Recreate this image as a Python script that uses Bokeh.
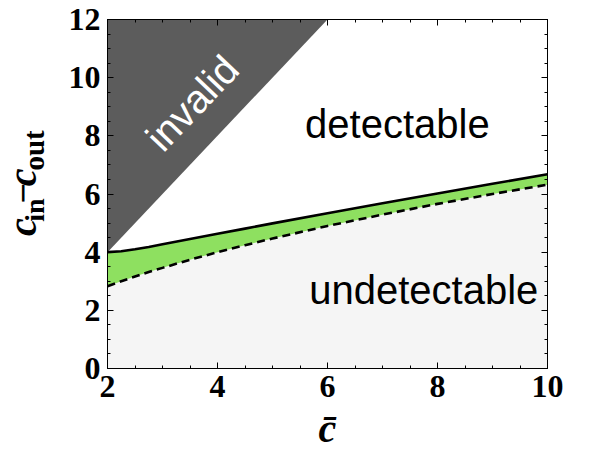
from bokeh.plotting import figure
from bokeh.models import Range1d, LinearAxis, SingleIntervalTicker, Label
from bokeh.layouts import row
from bokeh.embed import file_html
from bokeh.resources import INLINE

# --- data ---
cbar = [2, 2.25, 2.5, 2.75, 3, 3.5, 4, 4.5, 5, 6, 7, 8, 9, 10]
upper = [4.0, 4.03, 4.1, 4.18, 4.27, 4.45, 4.63, 4.81, 4.99, 5.34, 5.68, 6.02, 6.35, 6.68]   # solid
lower = [2.83, 3.0, 3.16, 3.32, 3.46, 3.74, 4.0, 4.24, 4.47, 4.9, 5.29, 5.66, 6.0, 6.32]    # dashed
invalid_x = [2, 6]
invalid_lo = [4, 12]
invalid_hi = [12, 12]

p = figure(width=556, height=453, output_backend="svg", toolbar_location=None, title=None,
           x_range=Range1d(2, 10), y_range=Range1d(0, 12),
           min_border_left=55, min_border_right=61, min_border_top=19, min_border_bottom=82)
p.grid.visible = False
p.background_fill_color = "white"
p.outline_line_color = "black"

# fills
p.varea(x=cbar, y1=[0] * len(cbar), y2=lower, fill_color="#f5f5f5")
p.varea(x=cbar, y1=lower, y2=upper, fill_color="#8ee060")
p.varea(x=invalid_x, y1=invalid_lo, y2=invalid_hi, fill_color="#5c5c5c")

# boundary curves
p.line(cbar, upper, line_color="black", line_width=2.6)
p.line(cbar, lower, line_color="black", line_width=2.6, line_dash="8 5")

def style_axis(ax, show_labels):
    ax.ticker = SingleIntervalTicker(interval=2, num_minor_ticks=4)
    ax.major_tick_in = 6
    ax.major_tick_out = 0
    ax.minor_tick_in = 3
    ax.minor_tick_out = 0
    ax.axis_line_color = "black"
    ax.major_tick_line_color = "black"
    ax.minor_tick_line_color = "black"
    if show_labels:
        ax.major_label_text_font = "Liberation Serif"
        ax.major_label_text_font_style = "bold"
        ax.major_label_text_font_size = "32px"
        ax.major_label_text_color = "black"
    else:
        ax.major_label_text_font_size = "0px"
        ax.major_label_text_alpha = 0

style_axis(p.xaxis[0], True)
style_axis(p.yaxis[0], True)
p.xaxis[0].major_label_standoff = 7
p.yaxis[0].major_label_standoff = 7
p.xaxis[0].axis_label = "c\u0304"
p.xaxis[0].axis_label_text_font = "Liberation Serif"
p.xaxis[0].axis_label_text_font_style = "bold italic"
p.xaxis[0].axis_label_text_font_size = "40px"
p.xaxis[0].axis_label_text_color = "black"
p.xaxis[0].axis_label_standoff = 6
top = LinearAxis()
right = LinearAxis()
style_axis(top, False)
style_axis(right, False)
p.add_layout(top, "above")
p.add_layout(right, "right")

# region labels
p.add_layout(Label(x=7.27, y=8.39, text="detectable", text_align="center",
                   text_baseline="middle", text_font="Liberation Sans",
                   text_font_size="40px", text_color="black"))
p.add_layout(Label(x=7.75, y=2.7, text="undetectable", text_align="center",
                   text_baseline="middle", text_font="Liberation Sans",
                   text_font_size="40px", text_color="black"))
p.add_layout(Label(x=3.54, y=9.13, text="invalid", text_align="center",
                   text_baseline="middle", text_font="Liberation Sans",
                   text_font_size="40px", text_color="white", angle=0.81))

# ---- y-axis title panel: c_in - c_out ----
yfig = figure(width=52, height=453, output_backend="svg", toolbar_location=None, title=None,
              x_range=Range1d(0, 52), y_range=Range1d(0, 453),
              x_axis_location=None, y_axis_location=None,
              min_border=0, outline_line_color=None)
yfig.grid.visible = False
ylab = [
    ("c", 21.6, 183.5, "40px", "bold italic"),
    ("in", 33.5, 205.5, "28px", "bold"),
    ("\u2212", 22.0, 227.5, "36px", "bold"),
    ("c", 21.6, 248.0, "40px", "bold italic"),
    ("out", 33.2, 283.0, "29px", "bold"),
]
for t, lx, ly, fs, st in ylab:
    yfig.add_layout(Label(x=lx, y=ly, text=t, angle=1.5708, text_align="center",
                          text_baseline="middle", text_font="Liberation Serif",
                          text_font_style=st, text_font_size=fs, text_color="black"))

layout = row(yfig, p)
open("out.html", "w").write(file_html(layout, INLINE))
